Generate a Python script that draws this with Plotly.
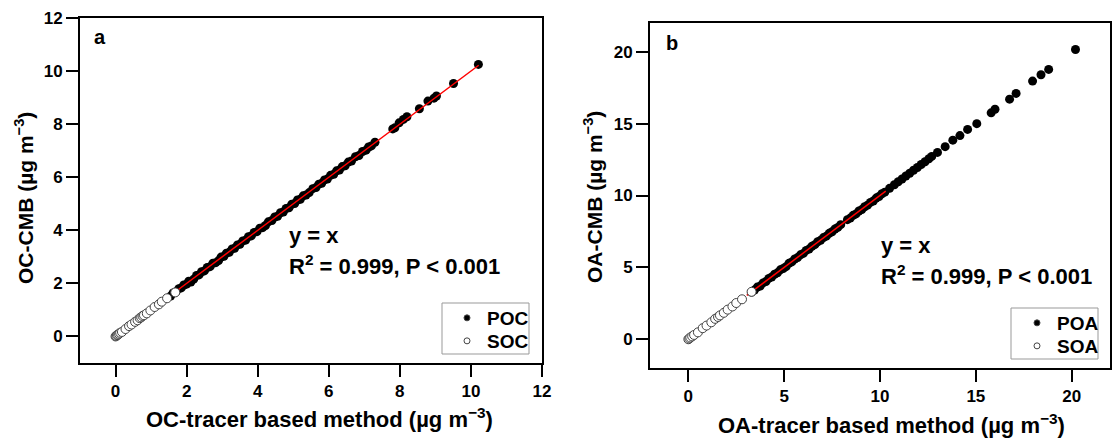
import plotly.graph_objects as go

W, H = 1113, 439

# ---------------- Data (panel a) ----------------
poc_x = [1.55, 1.62, 1.70, 1.78, 1.85, 1.92, 2.00, 2.06, 2.12, 2.20, 2.28, 2.35, 2.42, 2.50, 2.58,
         2.66, 2.74, 2.82, 2.90, 2.97, 3.05, 3.12, 3.20, 3.28, 3.35, 3.43, 3.50, 3.58, 3.66, 3.74,
         3.82, 3.90, 3.98, 4.06, 4.14, 4.22, 4.30, 4.40, 4.48, 4.56, 4.64, 4.72, 4.80, 4.88, 4.96,
         5.04, 5.12, 5.20, 5.28, 5.36, 5.45, 5.55, 5.64, 5.72, 5.80, 5.88, 5.96, 6.05, 6.14, 6.22,
         6.30, 6.38, 6.46, 6.55, 6.64, 6.75, 6.85, 6.95, 7.05, 7.12, 7.20, 7.30, 7.80, 7.86, 7.98,
         8.10, 8.20, 8.55, 8.79, 8.96, 9.03, 9.51, 10.21]
poc_y = [1.52, 1.64, 1.68, 1.80, 1.83, 1.94, 1.97, 2.08, 2.05, 2.16, 2.30, 2.32, 2.44, 2.47, 2.60,
         2.63, 2.76, 2.78, 2.86, 2.99, 3.02, 3.14, 3.17, 3.30, 3.32, 3.45, 3.47, 3.60, 3.63, 3.76,
         3.79, 3.92, 3.95, 4.08, 4.10, 4.18, 4.32, 4.37, 4.50, 4.53, 4.66, 4.69, 4.82, 4.85, 4.98,
         5.01, 5.14, 5.17, 5.30, 5.33, 5.42, 5.57, 5.61, 5.74, 5.77, 5.90, 5.93, 6.07, 6.11, 6.24,
         6.27, 6.40, 6.43, 6.57, 6.61, 6.77, 6.82, 6.97, 7.02, 7.14, 7.18, 7.32, 7.82, 7.86, 8.05,
         8.18, 8.28, 8.58, 8.87, 8.98, 9.06, 9.53, 10.25]
soc_x = [0.00, 0.02, 0.04, 0.07, 0.10, 0.13, 0.18, 0.28, 0.38, 0.45, 0.55, 0.62, 0.68, 0.72, 0.76,
         0.80, 0.88, 0.98, 1.10, 1.22, 1.30, 1.45, 1.68]
soc_y = [0.00, 0.02, 0.05, 0.07, 0.10, 0.14, 0.17, 0.28, 0.39, 0.45, 0.55, 0.61, 0.69, 0.72, 0.77,
         0.80, 0.87, 0.98, 1.11, 1.21, 1.31, 1.44, 1.66]
fit_a_x = [1.60, 10.22]
fit_a_y = [1.60, 10.22]

# ---------------- Data (panel b) ----------------
poa_x = [3.30, 3.45, 3.60, 3.75, 3.90, 4.05, 4.20, 4.35, 4.50, 4.65, 4.80, 4.95, 5.10, 5.25, 5.40,
         5.55, 5.70, 5.85, 6.00, 6.15, 6.30, 6.45, 6.60, 6.75, 6.90, 7.05, 7.20, 7.35, 7.50, 7.65,
         7.80, 7.95, 8.30, 8.45, 8.60, 8.75, 8.90, 9.05, 9.20, 9.35, 9.50, 9.65, 9.80, 9.95, 10.10,
         10.25, 10.50, 10.75, 10.95, 11.15, 11.35, 11.55, 11.75, 11.95, 12.15, 12.35, 12.55, 12.70,
         13.00, 13.40, 13.80, 14.17, 14.57, 15.05, 15.80, 16.00, 16.76, 17.10, 17.96, 18.40, 18.80,
         20.20]
poa_y = [3.28, 3.42, 3.63, 3.70, 3.92, 4.02, 4.23, 4.33, 4.52, 4.62, 4.83, 4.92, 5.05, 5.28, 5.38,
         5.58, 5.68, 5.87, 5.97, 6.18, 6.27, 6.47, 6.58, 6.78, 6.88, 7.07, 7.17, 7.37, 7.48, 7.67,
         7.78, 7.97, 8.32, 8.43, 8.62, 8.72, 8.92, 9.02, 9.22, 9.33, 9.52, 9.62, 9.82, 9.93, 10.12,
         10.23, 10.50, 10.75, 10.96, 11.15, 11.36, 11.55, 11.76, 11.95, 12.16, 12.35, 12.56, 12.72,
         13.00, 13.40, 13.85, 14.17, 14.60, 15.00, 15.75, 16.00, 16.70, 17.10, 17.96, 18.40, 18.77,
         20.16]
soa_x = [0.00, 0.05, 0.10, 0.20, 0.30, 0.50, 0.75, 0.95, 1.20, 1.40, 1.55, 1.65, 1.85, 2.05, 2.30,
         2.50, 2.80, 3.30]
soa_y = [0.00, 0.05, 0.12, 0.20, 0.30, 0.48, 0.77, 0.95, 1.18, 1.42, 1.55, 1.66, 1.84, 2.06, 2.28,
         2.52, 2.78, 3.30]
fit_b_x = [3.05, 10.30]
fit_b_y = [3.05, 10.30]

FONT = "Liberation Sans, Arial, sans-serif"

fig = go.Figure()

def add_panel(xa, ya, px, py, sx, sy, fx, fy):
    fig.add_trace(go.Scatter(x=px, y=py, mode="markers", xaxis=xa, yaxis=ya, showlegend=False,
                             marker=dict(size=9, color="black", line=dict(width=0))))
    fig.add_trace(go.Scatter(x=fx, y=fy, mode="lines", xaxis=xa, yaxis=ya, showlegend=False,
                             line=dict(color="red", width=1.5)))
    fig.add_trace(go.Scatter(x=sx, y=sy, mode="markers", xaxis=xa, yaxis=ya, showlegend=False,
                             marker=dict(size=9, color="white", line=dict(width=1, color="#444"))))

add_panel("x", "y", poc_x, poc_y, soc_x, soc_y, fit_a_x, fit_a_y)
add_panel("x2", "y2", poa_x, poa_y, soa_x, soa_y, fit_b_x, fit_b_y)

def px2x(p):
    return p / W

def px2y(p):
    return 1 - p / H

# legend entries: one plotly legend per entry, framed by a grey box
legend_specs = [("POC", "black", "legend", 447, 318, "x", "y"),
                ("SOC", "white", "legend2", 447, 341, "x", "y"),
                ("POA", "black", "legend3", 1017, 323, "x2", "y2"),
                ("SOA", "white", "legend4", 1017, 346, "x2", "y2")]
legend_layout = {}
for name, fill, leg, lx, ly, xa, ya in legend_specs:
    fig.add_trace(go.Scatter(x=[None], y=[None], mode="markers", name=name, legend=leg,
                             xaxis=xa, yaxis=ya,
                             marker=dict(size=6, color=fill, line=dict(width=1, color="#444"))))
    legend_layout[leg] = dict(x=px2x(lx), y=px2y(ly), xanchor="left", yanchor="middle",
                              borderwidth=0, bgcolor="rgba(0,0,0,0)", itemsizing="trace",
                              font=dict(family=FONT, size=19, color="black", weight="bold"))

for x0, y0, x1, y1 in [(442, 303, 529, 354), (1011, 308, 1098, 359)]:
    fig.add_shape(type="rect", xref="paper", yref="paper",
                  x0=px2x(x0), x1=px2x(x1), y0=px2y(y1), y1=px2y(y0),
                  line=dict(color="#999", width=1), fillcolor="rgba(0,0,0,0)", layer="above")

axis_common = dict(showline=True, linecolor="black", linewidth=2, mirror=True,
                   ticks="outside", ticklen=12, tickwidth=2, tickcolor="black",
                   showgrid=False, zeroline=False, automargin=False,
                   tickfont=dict(family=FONT, size=17, color="black", weight="bold"))

fig.update_layout(
    width=W, height=H, margin=dict(l=0, r=0, t=0, b=0, pad=0), autosize=False,
    paper_bgcolor="white", plot_bgcolor="white",
    xaxis=dict(domain=[px2x(80), px2x(542)], range=[-1, 12], tickvals=[0, 2, 4, 6, 8, 10, 12],
               anchor="y", **axis_common),
    yaxis=dict(domain=[px2y(363), px2y(18)], range=[-1, 12], tickvals=[0, 2, 4, 6, 8, 10, 12],
               anchor="x", **axis_common),
    xaxis2=dict(domain=[px2x(650), px2x(1110)], range=[-2, 22], tickvals=[0, 5, 10, 15, 20],
                anchor="y2", **axis_common),
    yaxis2=dict(domain=[px2y(368), px2y(23)], range=[-2, 22], tickvals=[0, 5, 10, 15, 20],
                anchor="x2", **axis_common),
    **legend_layout,
)

def ann(text, x, y, size=20, xanchor="left", angle=0):
    fig.add_annotation(text=text, x=px2x(x), y=px2y(y), xref="paper", yref="paper",
                       xanchor=xanchor, yanchor="middle", showarrow=False, textangle=angle,
                       font=dict(family=FONT, size=size, color="black", weight="bold"))

ann("a", 92, 37)
ann("b", 664, 43)
ann("y = x", 287, 235, size=22)
ann("R<sup>2</sup> = 0.999, P < 0.001", 287, 265, size=22)
ann("y = x", 879, 245, size=22)
ann("R<sup>2</sup> = 0.999, P < 0.001", 879, 275, size=22)
ann("OC-CMB (µg m<sup>−3</sup>)", 24, 198, size=21, xanchor="center", angle=-90)
ann("OC-tracer based method (µg m<sup>−3</sup>)", 319, 418, size=22, xanchor="center")
ann("OA-CMB (µg m<sup>−3</sup>)", 593, 197, size=21, xanchor="center", angle=-90)
ann("OA-tracer based method (µg m<sup>−3</sup>)", 891, 424, size=22, xanchor="center")

fig.write_html("out.html", config={"responsive": False, "displayModeBar": False},
               post_script="document.body.style.margin='0';document.body.style.overflow='hidden';")
